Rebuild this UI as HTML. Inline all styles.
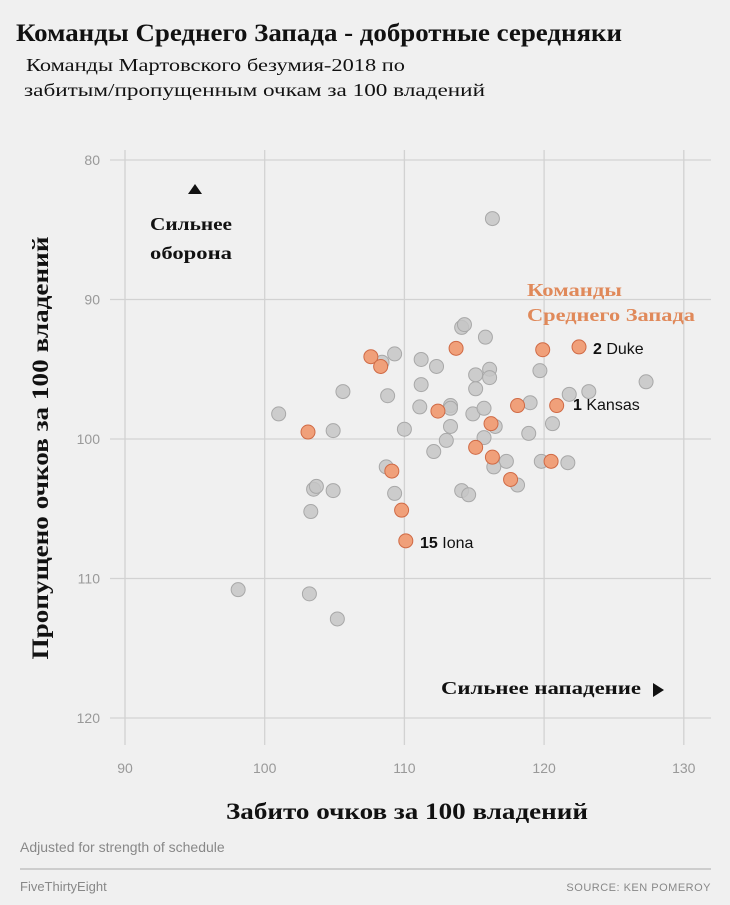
<!DOCTYPE html>
<html><head><meta charset="utf-8"><style>
html,body{margin:0;padding:0;background:#f0f0f0;width:730px;height:905px;overflow:hidden}
svg{display:block}
</style></head><body>
<svg id="chart" width="730" height="905" xmlns="http://www.w3.org/2000/svg">
<rect width="730" height="905" fill="#f0f0f0"/>
<text x="16" y="41" textLength="606" lengthAdjust="spacingAndGlyphs" font-family="Liberation Serif, serif" font-weight="bold" font-size="25" fill="#111">Команды Среднего Запада - добротные середняки</text>
<text x="26" y="71" textLength="379" lengthAdjust="spacingAndGlyphs" font-family="Liberation Serif, serif" font-size="18" fill="#111">Команды Мартовского безумия-2018 по</text>
<text x="24" y="96" textLength="461" lengthAdjust="spacingAndGlyphs" font-family="Liberation Serif, serif" font-size="18" fill="#111">забитым/пропущенным очкам за 100 владений</text>
<g id="grid"></g>
<g id="points"></g>
<text font-family="Liberation Serif, serif" font-weight="bold" font-size="18" fill="#111"><tspan x="150" y="230" textLength="82" lengthAdjust="spacingAndGlyphs">Сильнее</tspan><tspan x="150" y="259" textLength="82" lengthAdjust="spacingAndGlyphs">оборона</tspan></text>
<polygon points="188,194 202,194 195,184" fill="#111"/>
<text x="441" y="694" textLength="200" lengthAdjust="spacingAndGlyphs" font-family="Liberation Serif, serif" font-weight="bold" font-size="18" fill="#111">Сильнее нападение</text>
<polygon points="653,683 653,697 664,690" fill="#111"/>
<text font-family="Liberation Serif, serif" font-weight="bold" font-size="18" fill="#e0895a"><tspan x="527" y="296" textLength="95" lengthAdjust="spacingAndGlyphs">Команды</tspan><tspan x="527" y="321" textLength="168" lengthAdjust="spacingAndGlyphs">Среднего Запада</tspan></text>
<text x="593" y="354" font-family="Liberation Sans, sans-serif" font-size="16" fill="#111"><tspan font-weight="bold">2</tspan> Duke</text>
<text x="573" y="410" font-family="Liberation Sans, sans-serif" font-size="16" fill="#111"><tspan font-weight="bold">1</tspan> Kansas</text>
<text x="420" y="548" font-family="Liberation Sans, sans-serif" font-size="16" fill="#111"><tspan font-weight="bold">15</tspan> Iona</text>
<text x="0" y="0" transform="translate(48,448) rotate(-90)" text-anchor="middle" textLength="423" lengthAdjust="spacingAndGlyphs" font-family="Liberation Serif, serif" font-weight="bold" font-size="23" fill="#111">Пропущено очков за 100 владений</text>
<text x="407" y="819" text-anchor="middle" textLength="362" lengthAdjust="spacingAndGlyphs" font-family="Liberation Serif, serif" font-weight="bold" font-size="23" fill="#111">Забито очков за 100 владений</text>
<text x="20" y="852" font-family="Liberation Sans, sans-serif" font-size="14" fill="#888">Adjusted for strength of schedule</text>
<line x1="20" y1="869" x2="711" y2="869" stroke="#aaa" stroke-width="1"/>
<text x="20" y="891" font-family="Liberation Sans, sans-serif" font-size="13" fill="#888">FiveThirtyEight</text>
<text x="711" y="891" text-anchor="end" font-family="Liberation Sans, sans-serif" font-size="11" fill="#888" letter-spacing="0.5">SOURCE: KEN POMEROY</text>
</svg>
<script>
const xTicks=[90,100,110,120,130];
const yTicks=[80,90,100,110,120];
const grayX=[116.3,114.1,114.3,115.8,109.3,108.4,111.2,112.3,116.1,115.1,116.1,105.6,108.8,115.1,111.2,119.7,119.0,121.8,123.2,127.3,101.0,104.9,110.0,111.1,113.3,113.3,114.9,115.7,113.3,112.1,113.0,115.7,116.5,118.9,120.6,119.8,121.7,117.3,118.1,116.4,108.7,109.3,103.5,103.7,104.9,114.1,114.6,103.3,98.1,103.2,105.2];
const grayY=[84.2,92.0,91.8,92.7,93.9,94.5,94.3,94.8,95.0,95.4,95.6,96.6,96.9,96.4,96.1,95.1,97.4,96.8,96.6,95.9,98.2,99.4,99.3,97.7,97.6,97.8,98.2,97.8,99.1,100.9,100.1,99.9,99.1,99.6,98.9,101.6,101.7,101.6,103.3,102.0,102.0,103.9,103.6,103.4,103.7,103.7,104.0,105.2,110.8,111.1,112.9];
const midX=[107.6,108.3,113.7,119.9,122.5,103.1,112.4,116.2,118.1,120.9,115.1,116.3,117.6,109.1,109.8,110.1,120.5];
const midY=[94.1,94.8,93.5,93.6,93.4,99.5,98.0,98.9,97.6,97.6,100.6,101.3,102.9,102.3,105.1,107.3,101.6];
const NS='http://www.w3.org/2000/svg';
const xs=v=>125+(v-90)*13.97;
const ys=v=>160+(v-80)*13.95;
const grid=document.getElementById('grid');
const pts=document.getElementById('points');
function mk(tag,attrs,parent){const e=document.createElementNS(NS,tag);for(const k in attrs)e.setAttribute(k,attrs[k]);parent.appendChild(e);return e;}
xTicks.forEach(t=>{
  const l=mk('line',{x1:xs(t),x2:xs(t),y1:150,y2:745,stroke:'#d2d2d2','stroke-width':1.3},grid);
  
  
  const tx=mk('text',{x:xs(t),y:773,'text-anchor':'middle','font-family':'Liberation Sans, sans-serif','font-size':14,fill:'#999'},grid);
  tx.textContent=t;
  
  
});
yTicks.forEach(t=>{
  const l=mk('line',{x1:110,x2:711,y1:ys(t),y2:ys(t),stroke:'#d2d2d2','stroke-width':1.3},grid);
  
  
  const tx=mk('text',{x:100,y:ys(t)+5,'text-anchor':'end','font-family':'Liberation Sans, sans-serif','font-size':14,fill:'#999'},grid);
  tx.textContent=t;
  
  
});
grayX.forEach((v,i)=>{
  const c=mk('circle',{cx:xs(v),cy:ys(grayY[i]),r:7,fill:'#c6c6c6',stroke:'#a8a8a8','stroke-width':1,'fill-opacity':0.85},pts);
  
  
});
midX.forEach((v,i)=>{
  const c=mk('circle',{cx:xs(v),cy:ys(midY[i]),r:7,fill:'#f0a07a',stroke:'#d06a45','stroke-width':1},pts);
  
  
});
</script>
</body></html>
